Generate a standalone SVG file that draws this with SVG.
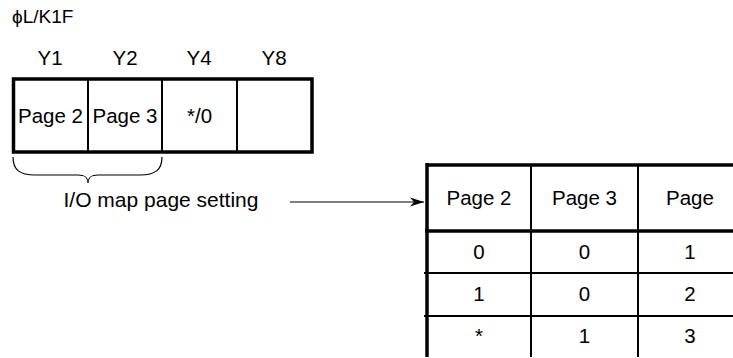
<svg xmlns="http://www.w3.org/2000/svg" width="733" height="358" viewBox="0 0 733 358">
<defs>
<style>
text{font-family:"Liberation Sans",Arial,sans-serif;fill:#000;text-anchor:middle}
.t{font-size:20.5px}
.thick{stroke:#000;stroke-width:3.5;fill:none}
.thin{stroke:#000;stroke-width:2;fill:none}
.hair{stroke:#000;stroke-width:1.2;fill:none}
</style>
<marker id="ah" viewBox="0 0 14 10" refX="14" refY="5" markerWidth="14" markerHeight="10" markerUnits="userSpaceOnUse" orient="auto">
<path d="M0,0.5 L14,5 L0,9.5 L4,5 Z" fill="#000"/>
</marker>
</defs>
<rect width="733" height="358" fill="#fff"/>
<g id="title"><text x="12" y="23" style="text-anchor:start;font-size:19px">ϕL/K1F</text></g>
<g id="register">
<text x="50" y="65" class="t">Y1</text>
<text x="125" y="65" class="t">Y2</text>
<text x="199" y="65" class="t">Y4</text>
<text x="274" y="65" class="t">Y8</text>
<rect x="13.5" y="79" width="298.5" height="73" class="thick"/>
<line x1="88" y1="79" x2="88" y2="152" class="thin"/>
<line x1="162" y1="79" x2="162" y2="152" class="thin"/>
<line x1="237" y1="79" x2="237" y2="152" class="thin"/>
<text x="50.5" y="123" class="t">Page 2</text>
<text x="125" y="123" class="t">Page 3</text>
<text x="199.5" y="123" class="t">*/0</text>
</g>
<g id="brace">
<path d="M13,157 C13,170 20,175 35,175 L78,175 C86,175 88,178 88,183 C88,178 90,175 98,175 L140,175 C155,175 162,170 162,157" class="hair"/>
<text x="161" y="207" style="font-size:21px">I/O map page setting</text>
</g>
<g id="connectors">
<line x1="290" y1="202" x2="424" y2="202" stroke="#000" stroke-width="1.2" marker-end="url(#ah)"/>
</g>
<g id="table">
<line x1="427" y1="165" x2="750" y2="165" class="thick"/>
<line x1="425" y1="231" x2="750" y2="231" class="thick"/>
<line x1="424" y1="273" x2="750" y2="273" class="thin"/>
<line x1="424" y1="316" x2="750" y2="316" class="thin"/>
<line x1="427" y1="163" x2="427" y2="357" class="thick"/>
<line x1="531" y1="165" x2="531" y2="357" class="thin"/>
<line x1="638" y1="165" x2="638" y2="357" class="thin"/>
<text x="479" y="205" class="t">Page 2</text>
<text x="584.5" y="205" class="t">Page 3</text>
<text x="690" y="205" class="t">Page</text>
<text x="479" y="259" class="t">0</text>
<text x="584.5" y="259" class="t">0</text>
<text x="690" y="259" class="t">1</text>
<text x="479" y="301" class="t">1</text>
<text x="584.5" y="301" class="t">0</text>
<text x="690" y="301" class="t">2</text>
<text x="479" y="343" class="t">*</text>
<text x="584.5" y="343" class="t">1</text>
<text x="690" y="343" class="t">3</text>
</g>
</svg>
